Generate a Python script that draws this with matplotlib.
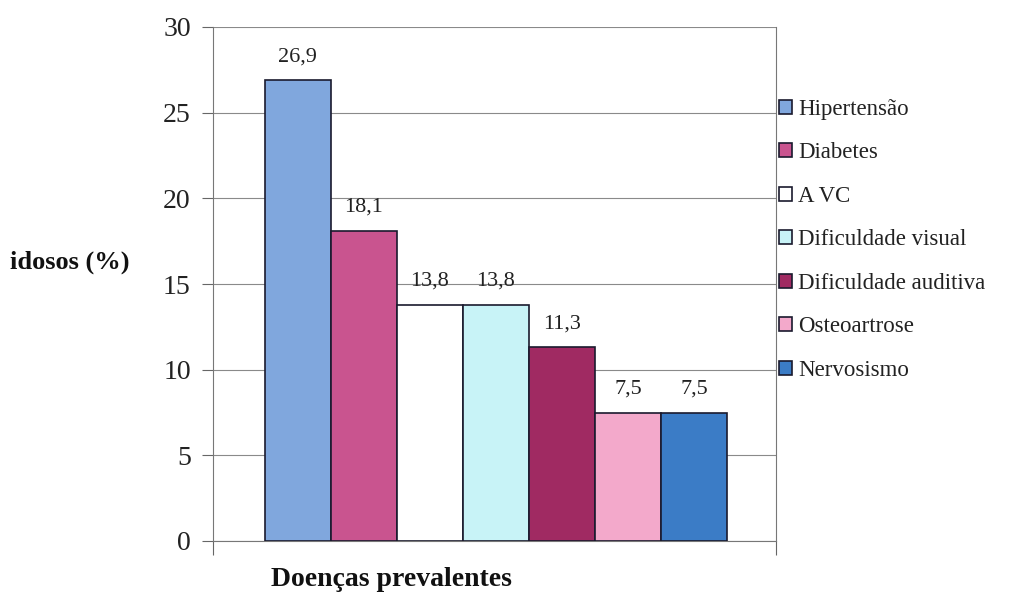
import matplotlib
matplotlib.use("Agg")
import matplotlib.pyplot as plt
from matplotlib.patches import Patch

categories = ["Hipertensão", "Diabetes", "A VC", "Dificuldade visual",
              "Dificuldade auditiva", "Osteoartrose", "Nervosismo"]
values = [26.9, 18.1, 13.8, 13.8, 11.3, 7.5, 7.5]
value_labels = ["26,9", "18,1", "13,8", "13,8", "11,3", "7,5", "7,5"]
colors = ["#80a7dd", "#c9548f", "#ffffff", "#c8f3f7", "#a02a62", "#f3a9cb", "#3b7cc6"]
yticks = [0, 5, 10, 15, 20, 25, 30]

plt.rcParams['font.family'] = ['Liberation Serif', 'DejaVu Serif']

fig = plt.figure(figsize=(10.3, 5.95), dpi=100)
ax = fig.add_axes([213/1030, 1-541/595, (776-213)/1030, (541-27)/595])

x = list(range(len(values)))
bars = ax.bar(x, values, width=1.0, color=colors, edgecolor="#1a1a2e", linewidth=1.2, zorder=3)
for xi, v, lab in zip(x, values, value_labels):
    ax.annotate(lab, (xi, v), xytext=(0, 10), textcoords="offset points",
                ha="center", va="bottom", fontsize=16, color="#222222")

xmin, xmax = -0.5-0.78, 6.5+0.74
ax.set_xlim(xmin, xmax)
ax.set_ylim(0, 30)
ax.set_yticks(yticks)
ax.set_yticklabels([str(t) for t in yticks], fontsize=20, color="#222222")
ax.tick_params(axis='y', direction='out', length=8, width=0.8, color="#666666", pad=8)
ax.set_xticks([xmin, xmax])
ax.set_xticklabels([])
ax.tick_params(axis='x', direction='out', length=10, width=0.8, color="#666666")
ax.yaxis.grid(True, color="#8a8a8a", linewidth=0.8, zorder=0)
ax.set_axisbelow(True)
ax.spines["top"].set_visible(False)
for s in ["left", "right", "bottom"]:
    ax.spines[s].set_color("#777777")
    ax.spines[s].set_linewidth(0.8)

fig.text(10/1030, 1-262/595, "idosos (%)", fontsize=19, fontweight="bold",
         ha="left", va="center", color="#111111")
fig.text(391/1030, 1-580/595, "Doenças prevalentes", fontsize=20, fontweight="bold",
         ha="center", va="center", color="#111111")

handles = [Patch(facecolor=c, edgecolor="#1a1a2e", linewidth=1.2) for c in colors]
leg = fig.legend(handles, categories, loc="upper left",
                 bbox_to_anchor=(779/1030, 1-99/595), frameon=False,
                 fontsize=16.5, handlelength=0.55, handleheight=0.55,
                 handletextpad=0.3, labelspacing=0.98, borderaxespad=0,
                 borderpad=0)
for t in leg.get_texts():
    t.set_color("#222222")

fig.savefig("out.png", dpi=100)
